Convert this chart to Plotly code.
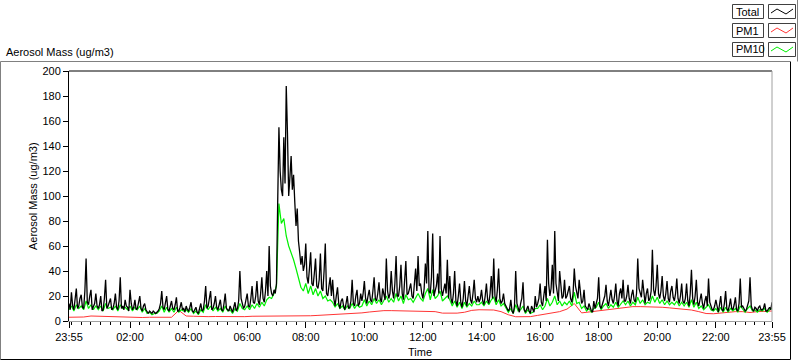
import plotly.graph_objects as go
import pandas as pd

# ---------------- data ----------------
start = pd.Timestamp("2000-01-01 23:55")

# Total aerosol mass, 2.5-minute samples
total_night = [14, 9, 23, 12, 9, 16, 26, 10, 12, 18, 21, 11, 10, 24, 50, 15, 13, 20, 25, 9, 11, 14, 22, 12,
               10, 13, 20, 8, 9, 18, 33, 10, 12, 15, 18, 9, 10, 14, 22, 11, 9, 16, 35, 10, 12, 9, 17, 12,
               11, 8, 25, 14, 9, 11, 17, 9, 10, 15, 20, 10, 8, 12, 14, 9, 7, 6, 8, 7, 6, 8, 7, 6,
               7, 8, 10, 14, 24, 11, 9, 15, 20, 9, 8, 12, 16, 10, 9, 13, 19, 8, 8, 11, 15, 9, 10, 7,
               12, 9, 8, 11, 15, 8, 7, 9, 11, 7, 6, 10, 14, 8, 9, 16, 28, 10, 12, 18, 24, 9, 10, 14,
               20, 11, 9, 13, 17, 9, 8, 14, 22, 10, 9, 8, 12, 9, 7, 11, 15, 8, 10, 16, 40, 18, 14, 10]
total_morning = [12, 16, 22, 12, 11, 18, 28, 15, 14, 20, 32, 16, 13, 22, 35, 18, 15, 24, 40, 20, 60, 28, 22, 20,
                 25, 22, 30, 95, 155, 120, 105, 100, 147, 110, 188, 150, 100, 115, 132, 105, 117, 95, 76, 90, 64, 55, 45, 52,
                 40, 45, 62, 35, 30, 42, 55, 30, 28, 38, 50, 28, 26, 33, 54, 26, 24, 40, 62, 22, 20, 28, 35, 20,
                 33, 18, 12, 20, 27, 14, 10, 16, 18, 12, 9, 14, 20, 10, 11, 16, 33, 14, 12, 20, 25, 12, 14, 22,
                 16, 22, 32, 18, 14, 20, 25, 17, 15, 24, 35, 18, 16, 22, 31, 18, 15, 26, 22, 17, 50, 24, 18, 22,
                 40, 24, 18, 30, 52, 20, 20, 28, 45, 22, 17, 32, 48, 21, 22, 26, 30, 20, 18, 30, 42, 24, 52, 28]
total_afternoon = [30, 22, 18, 26, 46, 30, 72, 24, 22, 35, 70, 20, 25, 28, 38, 22, 68, 26, 20, 24, 30, 22, 49, 18,
                   36, 18, 14, 22, 40, 16, 12, 20, 30, 15, 11, 18, 32, 16, 12, 20, 28, 17, 14, 22, 33, 18, 15, 20,
                   15, 18, 25, 16, 13, 20, 30, 17, 14, 22, 36, 18, 50, 20, 15, 25, 42, 18, 14, 16, 22, 14, 12, 9,
                   8, 10, 17, 8, 6, 12, 40, 14, 9, 7, 14, 18, 31, 9, 7, 10, 12, 8, 6, 12, 9, 7, 20, 11,
                   14, 18, 30, 15, 12, 22, 28, 16, 65, 30, 20, 26, 45, 22, 72, 30, 22, 16, 40, 25, 18, 20, 33, 18,
                   20, 24, 28, 18, 15, 22, 42, 28, 22, 18, 33, 20, 14, 16, 25, 12, 10, 9, 14, 11, 8, 7, 16, 10]
total_evening = [14, 18, 35, 12, 10, 14, 17, 20, 29, 16, 12, 18, 25, 17, 14, 20, 30, 16, 12, 22, 26, 18, 33, 16,
                 16, 20, 29, 18, 14, 21, 25, 17, 15, 22, 50, 26, 22, 19, 33, 20, 14, 22, 26, 16, 18, 24, 57, 25,
                 20, 28, 45, 22, 18, 24, 36, 20, 16, 22, 32, 18, 15, 24, 28, 19, 16, 22, 34, 18, 14, 20, 30, 16,
                 14, 18, 30, 16, 12, 22, 41, 18, 13, 20, 33, 15, 12, 17, 22, 14, 10, 16, 20, 12, 34, 15, 11, 9,
                 9, 12, 17, 10, 7, 13, 20, 9, 8, 14, 24, 10, 8, 12, 18, 10, 9, 13, 19, 9, 8, 14, 34, 11,
                 12, 10, 8, 9, 14, 16, 35, 12, 9, 8, 11, 10, 8, 11, 12, 9, 9, 10, 14, 8, 8, 10, 11, 9, 15]

# PM10, 5-minute samples
pm10_night = [9, 12, 8, 13, 10, 12, 9, 16, 10, 13, 9, 12,
              9, 12, 8, 14, 10, 11, 9, 12, 8, 13, 10, 11,
              9, 12, 8, 11, 9, 12, 7, 10, 6, 7, 5, 6,
              6, 8, 12, 7, 11, 7, 10, 7, 11, 7, 9, 8,
              9, 7, 10, 6, 8, 5, 9, 7, 13, 9, 12, 8,
              11, 8, 10, 7, 12, 8, 9, 6, 10, 8, 14, 10]
pm10_morning = [9, 12, 9, 13, 10, 14, 11, 15, 12, 17, 19, 18,
                22, 28, 94, 78, 82, 68, 60, 55, 49, 42, 34, 27,
                24, 30, 22, 28, 21, 26, 20, 24, 18, 20, 16, 17,
                15, 11, 14, 10, 12, 9, 12, 10, 14, 10, 13, 11,
                12, 17, 12, 16, 13, 18, 14, 17, 13, 16, 20, 15,
                18, 15, 22, 16, 20, 14, 21, 17, 18, 15, 19, 22]
pm10_afternoon = [18, 16, 22, 26, 17, 25, 18, 20, 24, 16, 18, 20,
                  17, 12, 16, 11, 15, 10, 15, 11, 14, 12, 16, 13,
                  13, 15, 12, 16, 13, 17, 19, 13, 17, 12, 14, 10,
                  7, 10, 6, 13, 8, 9, 12, 6, 9, 6, 7, 10,
                  10, 13, 9, 12, 18, 12, 15, 20, 13, 16, 12, 15,
                  13, 16, 12, 23, 14, 15, 10, 12, 8, 10, 7, 10]
pm10_evening = [11, 15, 9, 12, 14, 10, 13, 11, 15, 11, 14, 16,
                13, 16, 12, 15, 13, 19, 14, 17, 13, 15, 14, 20,
                15, 19, 14, 17, 13, 16, 13, 15, 13, 16, 12, 15,
                12, 15, 11, 17, 11, 15, 10, 12, 9, 11, 13, 9,
                8, 10, 7, 11, 7, 11, 7, 10, 8, 10, 7, 12,
                9, 7, 10, 12, 8, 9, 7, 9, 8, 10, 7, 9, 10]

# PM1, 15-minute samples
pm1 = [3.0, 3.0, 3.2, 4.0, 3.8, 3.5, 3.5, 3.5, 3.4, 3.0, 2.8, 3.0,
       2.8, 3.0, 3.0, 8.5, 4.0, 3.8, 3.5, 3.5, 3.6, 3.5, 3.4, 3.6,
       3.5, 3.8, 3.8, 4.0, 4.2, 4.0, 4.2, 4.0, 3.8, 4.2, 4.5, 4.8,
       5.0, 5.3, 5.6, 5.8, 6.5, 7.2, 7.8, 8.3, 8.3, 8.2, 8.3, 8.0,
       8.2, 8.0, 7.5, 6.3, 6.2, 6.3, 7.0, 8.5, 9.0, 9.2, 8.8, 7.5,
       5.0, 3.4, 3.2, 3.5, 4.5, 5.5, 6.5, 7.5, 9.5, 14.0, 6.5, 7.3,
       8.0, 8.8, 9.4, 10.0, 11.0, 11.5, 11.5, 11.5, 11.2, 11.0, 10.5, 10.0,
       9.5, 8.8, 7.5, 6.0, 5.8, 6.4, 7.2, 7.5, 7.5, 6.8, 7.5, 7.8, 8.0]

x_tick_labels = ["23:55", "02:00", "04:00", "06:00", "08:00", "10:00", "12:00",
                 "14:00", "16:00", "18:00", "20:00", "22:00", "23:55"]
y_tick_values = [0, 20, 40, 60, 80, 100, 120, 140, 160, 180, 200]

total = total_night + total_morning + total_afternoon + total_evening
pm10 = pm10_night + pm10_morning + pm10_afternoon + pm10_evening
t_total = pd.date_range(start, periods=len(total), freq="150s")
t_pm10 = pd.date_range(start, periods=len(pm10), freq="5min")
t_pm1 = pd.date_range(start, periods=len(pm1), freq="15min")
end = start + pd.Timedelta(hours=24)
x_tick_vals = [start] + [pd.Timestamp("2000-01-02") + pd.Timedelta(hours=h)
                         for h in range(2, 23, 2)] + [end]

# ---------------- figure ----------------
W, H = 800, 361
L, R, T, B = 69, 28, 71, 40
pw, ph = W - L - R, H - T - B


def px(x):
    return (x - L) / pw


def py(y):
    return (H - B - y) / ph


FONT = "Liberation Sans"
fig = go.Figure()
fig.add_trace(go.Scatter(x=t_pm1, y=pm1, mode="lines", name="PM1",
                         line=dict(color="#ff3535", width=1)))
fig.add_trace(go.Scatter(x=t_pm10, y=pm10, mode="lines", name="PM10",
                         line=dict(color="#00f000", width=1.2)))
fig.add_trace(go.Scatter(x=t_total, y=total, mode="lines", name="Total",
                         line=dict(color="#000000", width=1.3)))

fig.update_layout(
    width=W, height=H, margin=dict(l=L, r=R, t=T, b=B),
    paper_bgcolor="white", plot_bgcolor="white", showlegend=False,
    font=dict(family=FONT, size=11, color="black"),
    xaxis=dict(range=[start, end], tickmode="array", tickvals=x_tick_vals,
               ticktext=x_tick_labels, ticks="outside", ticklen=6, tickcolor="black",
               showline=True, linecolor="#a0a0a0", linewidth=1, showgrid=False,
               zeroline=False, tickfont=dict(size=11),
               minor=dict(ticks="outside", ticklen=3, tickcolor="black",
                          dtick=20 * 60 * 1000, tick0="2000-01-02 00:00",
                          showgrid=False)),
    yaxis=dict(range=[0, 200], tickmode="array", tickvals=y_tick_values,
               ticks="outside", ticklen=5, tickcolor="black", showline=True,
               linecolor="black", linewidth=1, showgrid=False, zeroline=False,
               tickfont=dict(size=11)),
)

shapes = []
# plot frame: top black, right grey
shapes.append(dict(type="line", xref="paper", yref="paper", x0=0, x1=1, y0=1, y1=1,
                   line=dict(color="black", width=1)))
shapes.append(dict(type="line", xref="paper", yref="paper", x0=1, x1=1, y0=0, y1=1,
                   line=dict(color="#a0a0a0", width=1)))
# outer frame
shapes.append(dict(type="line", xref="paper", yref="paper", x0=px(0.5), x1=px(790),
                   y0=py(61.5), y1=py(61.5), line=dict(color="#808080", width=1)))
shapes.append(dict(type="line", xref="paper", yref="paper", x0=px(0.5), x1=px(0.5),
                   y0=py(61.5), y1=py(359.5), line=dict(color="#808080", width=1)))
shapes.append(dict(type="line", xref="paper", yref="paper", x0=px(0.5), x1=px(790.5),
                   y0=py(359.5), y1=py(359.5), line=dict(color="black", width=1)))
shapes.append(dict(type="line", xref="paper", yref="paper", x0=px(790.5), x1=px(790.5),
                   y0=py(61.5), y1=py(359.5), line=dict(color="black", width=1)))
shapes.append(dict(type="line", xref="paper", yref="paper", x0=px(797.5), x1=px(797.5),
                   y0=py(0), y1=py(61.5), line=dict(color="#808080", width=1)))

annotations = []
legend_items = [("Total", "black", 5), ("PM1", "#ff3535", 24), ("PM10", "#00f000", 43)]
for name, col, top in legend_items:
    shapes.append(dict(type="rect", xref="paper", yref="paper", x0=px(732.5), x1=px(763.5),
                       y0=py(top + 13.5), y1=py(top - 0.5),
                       line=dict(color="#404040", width=1), fillcolor="white"))
    shapes.append(dict(type="rect", xref="paper", yref="paper", x0=px(768.5), x1=px(795.5),
                       y0=py(top + 13.5), y1=py(top - 0.5),
                       line=dict(color="#404040", width=1), fillcolor="white"))
    pts = [(771, top + 8), (777, top + 4), (786, top + 9), (793, top + 4)]
    path = "M " + " L ".join(f"{px(a)},{py(b)}" for a, b in pts)
    shapes.append(dict(type="path", xref="paper", yref="paper", path=path,
                       line=dict(color=col, width=1)))
    annotations.append(dict(xref="paper", yref="paper", x=px(734), y=py(top + 6.5),
                            xanchor="left", yanchor="middle", text=name, showarrow=False,
                            font=dict(size=11, family=FONT)))

annotations.append(dict(xref="paper", yref="paper", x=px(4), y=py(52),
                        xanchor="left", yanchor="middle", text="Aerosol Mass (ug/m3)",
                        showarrow=False, font=dict(size=11, family=FONT)))
annotations.append(dict(xref="paper", yref="paper", x=px(33), y=py(196),
                        xanchor="center", yanchor="middle", text="Aerosol Mass (ug/m3)",
                        textangle=-90, showarrow=False, font=dict(size=11, family=FONT)))
annotations.append(dict(xref="paper", yref="paper", x=px(420), y=py(352),
                        xanchor="center", yanchor="middle", text="Time",
                        showarrow=False, font=dict(size=11, family=FONT)))

fig.update_layout(shapes=shapes, annotations=annotations)
fig.write_html("out.html", config={"displayModeBar": False},
               post_script="document.body.style.margin='0px';")
